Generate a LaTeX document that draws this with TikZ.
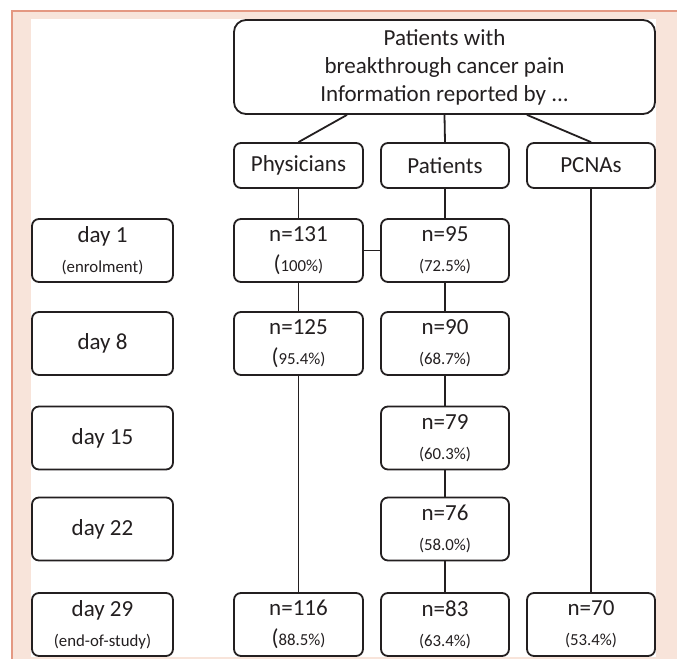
\documentclass[tikz,border=0pt]{standalone}
\usepackage{fontspec}
\setmainfont{Carlito}
\usepackage{tikz}
\usetikzlibrary{positioning}
\definecolor{FramePink}{RGB}{248,228,218}
\definecolor{FrameEdge}{RGB}{228,152,130}
\definecolor{InkGray}{RGB}{35,31,32}
\newcommand{\pct}[1]{{\fontsize{8.4}{10}\selectfont #1}}

\begin{document}
\begin{tikzpicture}[x=0.5pt,y=-0.5pt,
		box/.style={draw=InkGray, line width=0.9pt, rounded corners=3.5pt, align=center, text=InkGray, inner sep=0pt, font=\fontsize{11.5}{15}\selectfont},
		daybox/.style={box, minimum width=70.5pt, minimum height=31.5pt},
		colbox/.style={box, minimum width=64.5pt, minimum height=31.5pt},
		headbox/.style={box, minimum width=64.5pt, minimum height=22.5pt},
		link/.style={draw=InkGray, line width=0.9pt}]
		\useasboundingbox (0,0) rectangle (677,659);
		\fill [FramePink] (12,11) rectangle (677,659);
		\draw [FrameEdge, line width=0.6pt] (677,11) -- (12,11) -- (12,659);
		\fill [white] (31,19) rectangle (656,657);
		
		\node [box, rounded corners=6pt, minimum width=210.5pt, minimum height=47pt, font=\fontsize{11.5}{14}\selectfont] (title) at (444.5,67)
			{Patients with\\breakthrough cancer pain\\Information reported by ...};
		
		\node [headbox] (phys) at (298.5,165.5) {Physicians};
		\node [headbox, minimum width=64pt] (pat) at (445,165.5) {Patients};
		\node [headbox, minimum width=64pt] (pcna) at (591,165.5) {PCNAs};
		
		\node [daybox] (d1) at (102.5,250.5) {day 1\\\pct{(enrolment)}};
		\node [daybox] (d8) at (102.5,343.5) {day 8};
		\node [daybox] (d15) at (102.5,438) {day 15};
		\node [daybox] (d22) at (102.5,529) {day 22};
		\node [daybox] (d29) at (102.5,624.5) {day 29\\\pct{(end-of-study)}};
		
		\node [colbox] (p1) at (298.5,250.5) {n=131\\(\pct{100\%)}};
		\node [colbox] (p8) at (298.5,343.5) {n=125\\(\pct{95.4\%)}};
		\node [colbox] (p29) at (298.5,624.5) {n=116\\(\pct{88.5\%)}};
		
		\node [colbox, minimum width=64pt] (q1) at (445,250.5) {n=95\\\pct{(72.5\%)}};
		\node [colbox, minimum width=64pt] (q8) at (445,343.5) {n=90\\\pct{(68.7\%)}};
		\node [colbox, minimum width=64pt] (q15) at (445,438) {n=79\\\pct{(60.3\%)}};
		\node [colbox, minimum width=64pt] (q22) at (445,529) {n=76\\\pct{(58.0\%)}};
		\node [colbox, minimum width=64pt] (q29) at (445,624.5) {n=83\\\pct{(63.4\%)}};
		
		\node [colbox, minimum width=64pt] (r29) at (591,624.5) {n=70\\\pct{(53.4\%)}};
		
		\draw [link] ([xshift=-48.75pt]title.south) -- (phys.north);
		\draw [link] (title.south) -- (pat.north);
		\draw [link] ([xshift=41.25pt]title.south) -- (pcna.north);
		
		\draw [link] (phys) -- (p1);
		\draw [link] (p1) -- (p8);
		\draw [link] (p8) -- (p29);
		\draw [link] (p1) -- (q1);
		
		\draw [link] (pat) -- (q1);
		\draw [link] (q1) -- (q8);
		\draw [link] (q8) -- (q15);
		\draw [link] (q15) -- (q22);
		\draw [link] (q22) -- (q29);
		
		\draw [link] (pcna) -- (r29);
	\end{tikzpicture}
\end{document}
